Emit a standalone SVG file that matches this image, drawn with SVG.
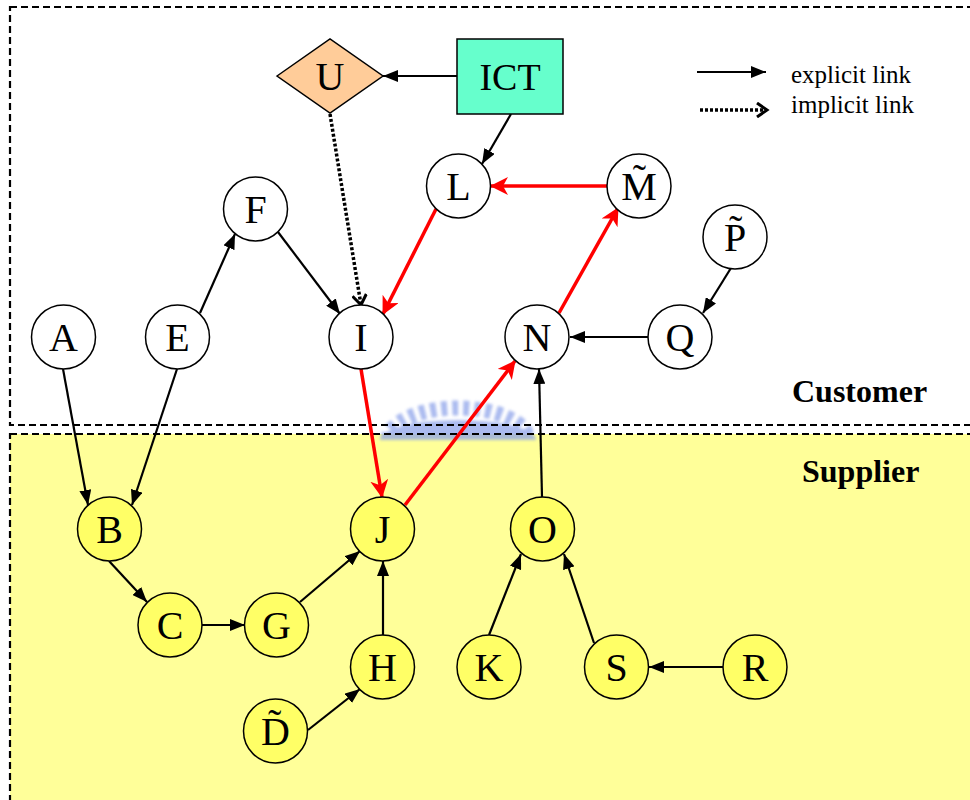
<svg xmlns="http://www.w3.org/2000/svg" width="970" height="800" viewBox="0 0 970 800">
  <style>
    .zone { stroke: #000; stroke-width: 2.2; stroke-dasharray: 7 4; }
    .node circle { stroke: #000; stroke-width: 1.5; }
    .cust circle { fill: #fff; }
    .supp circle { fill: #ffff66; }
    .lbl { font-family: "Liberation Serif", "Times New Roman", serif; font-size: 40px; text-anchor: middle; fill: #000; }
    .zonelbl { font-family: "Liberation Serif", "Times New Roman", serif; font-size: 32px; font-weight: bold; fill: #000; }
    .legend { font-family: "Liberation Serif", "Times New Roman", serif; font-size: 25px; fill: #000; }
    .exp { stroke: #000; stroke-width: 2.2; fill: none; marker-end: url(#headBlack); }
    .imp { stroke: #000; stroke-width: 3.5; stroke-dasharray: 3 2; fill: none; marker-end: url(#headOpen); }
    .path { stroke: #ff0000; stroke-width: 3.5; fill: none; marker-end: url(#headRed); }
  </style>
  <defs>
    <marker id="headBlack" markerUnits="userSpaceOnUse" markerWidth="15" markerHeight="12" refX="15" refY="6" orient="auto">
      <path d="M0,0 L15,6 L0,12 z" fill="#000"/>
    </marker>
    <marker id="headRed" markerUnits="userSpaceOnUse" markerWidth="18" markerHeight="18" refX="17" refY="9" orient="auto">
      <path d="M0,0 L18,9 L0,18 L5,9 z" fill="#ff0000"/>
    </marker>
    <marker id="headOpen" markerUnits="userSpaceOnUse" markerWidth="14" markerHeight="16" refX="11" refY="8" orient="auto">
      <path d="M1,1 L11,8 L1,15" fill="none" stroke="#000" stroke-width="3"/>
    </marker>
    <filter id="soft" x="-20%" y="-50%" width="140%" height="200%">
      <feGaussianBlur stdDeviation="1.5"/>
    </filter>
  </defs>

  <!-- background and the two zones -->
  <rect x="0" y="0" width="970" height="800" fill="#fff"/>
  <rect x="10" y="434" width="965" height="380" fill="#ffff99"/>

  <!-- faint gear-shaped emblem on the zone boundary -->
  <g filter="url(#soft)" opacity="0.75">
    <path d="M380,440 A78,20 0 0 1 536,440 Z" fill="#8fa4ea"/>
    <path d="M388,440 A70,32 0 0 1 528,440" fill="none" stroke="#8fa4ea" stroke-width="15" stroke-dasharray="6 5"/>
  </g>

  <rect class="zone" x="10" y="7" width="970" height="418" fill="none"/>
  <rect class="zone" x="10" y="434" width="970" height="380" fill="none"/>

  <text class="zonelbl" x="792" y="402">Customer</text>
  <text class="zonelbl" x="802" y="482">Supplier</text>

  <!-- legend -->
  <g id="legend">
    <line class="exp" x1="697" y1="72" x2="766" y2="72"/>
    <line class="imp" x1="700" y1="110" x2="767" y2="110"/>
    <text class="legend" x="791" y="83">explicit link</text>
    <text class="legend" x="791" y="113">implicit link</text>
  </g>

  <!-- connectors -->
  <g id="links">
    <line class="exp" x1="457" y1="76" x2="383" y2="76"/>
    <line class="exp" x1="511" y1="114" x2="482" y2="164"/>
    <line class="imp" x1="330" y1="114" x2="361" y2="305"/>
    <line class="exp" x1="200" y1="313" x2="235" y2="234"/>
    <line class="exp" x1="278" y1="232" x2="340" y2="314"/>
    <line class="exp" x1="63" y1="369" x2="88" y2="505"/>
    <line class="exp" x1="177" y1="369" x2="132" y2="505"/>
    <line class="exp" x1="648" y1="337" x2="570" y2="337"/>
    <line class="exp" x1="731" y1="268" x2="703" y2="313"/>
    <line class="exp" x1="542" y1="497" x2="539" y2="369"/>
    <line class="exp" x1="109" y1="561" x2="147" y2="602"/>
    <line class="exp" x1="202" y1="625" x2="245" y2="625"/>
    <line class="exp" x1="300" y1="602" x2="360" y2="551"/>
    <line class="exp" x1="383" y1="635" x2="383" y2="561"/>
    <line class="exp" x1="308" y1="730" x2="360" y2="689"/>
    <line class="exp" x1="489" y1="635" x2="521" y2="554"/>
    <line class="exp" x1="594" y1="643" x2="564" y2="554"/>
    <line class="exp" x1="723" y1="667" x2="649" y2="667"/>
    <line class="path" x1="607" y1="186" x2="491" y2="186"/>
    <line class="path" x1="436" y1="209" x2="383" y2="314"/>
    <line class="path" x1="361" y1="369" x2="382" y2="497"/>
    <line class="path" x1="405" y1="505" x2="515" y2="361"/>
    <line class="path" x1="559" y1="313" x2="618" y2="208"/>
  </g>

  <!-- special nodes -->
  <g id="U">
    <path d="M277,76 L330,39 L383,76 L330,113 Z" fill="#ffcc99" stroke="#000" stroke-width="1.5"/>
    <text class="lbl" x="330" y="90">U</text>
  </g>
  <g id="ICT">
    <rect x="457" y="39" width="106" height="75" fill="#66ffcc" stroke="#000" stroke-width="1.5"/>
    <text class="lbl" x="510" y="90" style="font-size:38px">ICT</text>
  </g>

  <!-- customer-side nodes -->
  <g id="A" class="node cust"><circle cx="63.5" cy="337" r="32"/><text class="lbl" x="63.5" y="351">A</text></g>
  <g id="E" class="node cust"><circle cx="177.5" cy="337" r="32"/><text class="lbl" x="177.5" y="351">E</text></g>
  <g id="F" class="node cust"><circle cx="255.5" cy="209" r="32"/><text class="lbl" x="255.5" y="223">F</text></g>
  <g id="I" class="node cust"><circle cx="361" cy="337" r="32"/><text class="lbl" x="361" y="351">I</text></g>
  <g id="L" class="node cust"><circle cx="458.5" cy="186" r="32"/><text class="lbl" x="458.5" y="200">L</text></g>
  <g id="M" class="node cust"><circle cx="639" cy="186" r="32"/><text class="lbl" x="639" y="200">M&#771;</text></g>
  <g id="P" class="node cust"><circle cx="735" cy="237" r="32"/><text class="lbl" x="735" y="251">P&#771;</text></g>
  <g id="N" class="node cust"><circle cx="537" cy="337" r="32"/><text class="lbl" x="537" y="351">N</text></g>
  <g id="Q" class="node cust"><circle cx="680" cy="337" r="32"/><text class="lbl" x="680" y="351">Q</text></g>

  <!-- supplier-side nodes -->
  <g id="B" class="node supp"><circle cx="109.5" cy="529" r="32"/><text class="lbl" x="109.5" y="543">B</text></g>
  <g id="C" class="node supp"><circle cx="170" cy="625" r="32"/><text class="lbl" x="170" y="639">C</text></g>
  <g id="G" class="node supp"><circle cx="276.5" cy="625" r="32"/><text class="lbl" x="276.5" y="639">G</text></g>
  <g id="J" class="node supp"><circle cx="382.5" cy="529" r="32"/><text class="lbl" x="382.5" y="543">J</text></g>
  <g id="H" class="node supp"><circle cx="382.5" cy="667" r="32"/><text class="lbl" x="382.5" y="681">H</text></g>
  <g id="D" class="node supp"><circle cx="275.5" cy="731" r="32"/><text class="lbl" x="275.5" y="745">D&#771;</text></g>
  <g id="O" class="node supp"><circle cx="542.5" cy="529" r="32"/><text class="lbl" x="542.5" y="543">O</text></g>
  <g id="K" class="node supp"><circle cx="489" cy="667" r="32"/><text class="lbl" x="489" y="681">K</text></g>
  <g id="S" class="node supp"><circle cx="616.5" cy="667" r="32"/><text class="lbl" x="616.5" y="681">S</text></g>
  <g id="R" class="node supp"><circle cx="755" cy="667" r="32"/><text class="lbl" x="755" y="681">R</text></g>
</svg>
